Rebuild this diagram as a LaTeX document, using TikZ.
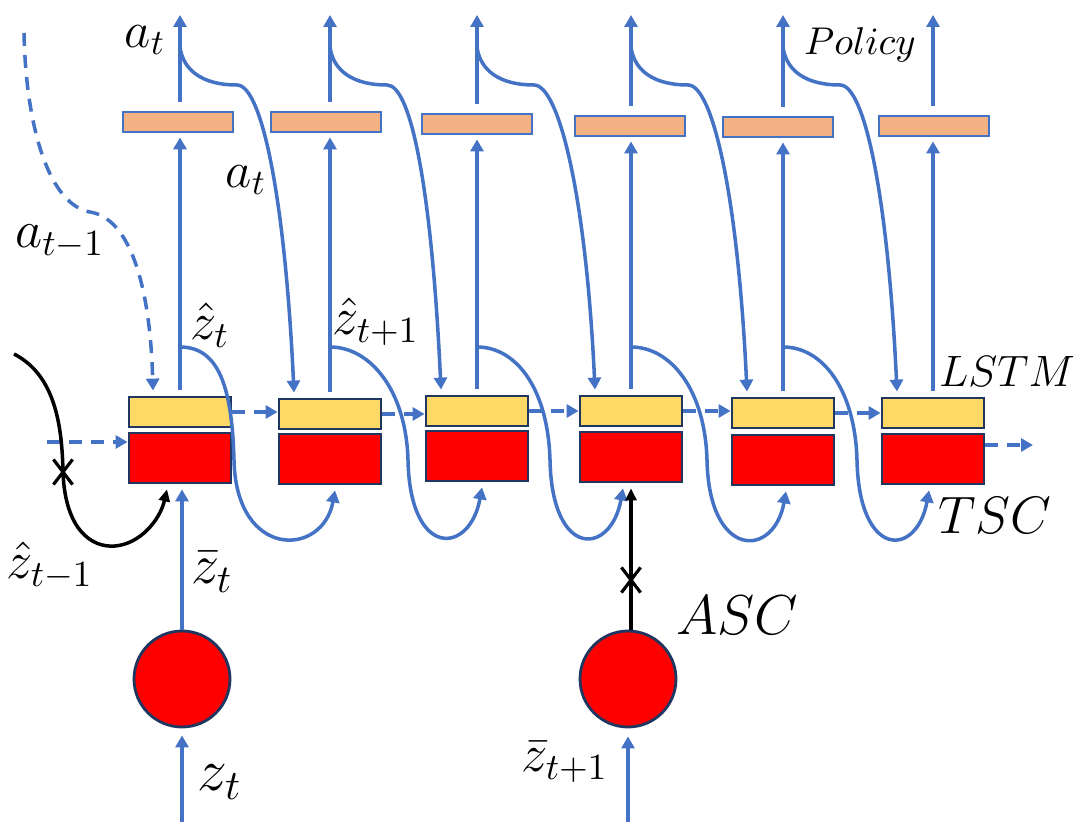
\documentclass[tikz,border=0pt]{standalone}
\usepackage{fix-cm}
\usepackage{amsmath}
\usepackage{xcolor}
\usetikzlibrary{arrows.meta,positioning,calc,shapes.misc}

\definecolor{lineblue}{HTML}{4472C4}
\definecolor{boxnavy}{HTML}{1F3760}
\definecolor{lstmyellow}{HTML}{FFD966}
\definecolor{tscred}{HTML}{FF0000}
\definecolor{polorange}{HTML}{F4B183}

\begin{document}
\begin{tikzpicture}[x=0.1mm, y=0.1mm,
    lstm/.style={draw=boxnavy, line width=0.8pt, fill=lstmyellow, minimum width=10.2mm, minimum height=3mm, inner sep=0pt},
    tsc/.style={draw=boxnavy, line width=0.8pt, fill=tscred, minimum width=10.2mm, minimum height=5mm, inner sep=0pt},
    pol/.style={draw=lineblue, line width=0.8pt, fill=polorange, minimum width=11mm, minimum height=2mm, inner sep=0pt},
    asc/.style={circle, draw=boxnavy, line width=0.8pt, fill=tscred, minimum size=9.6mm, inner sep=0pt},
    flow/.style={lineblue, line width=1pt, -{Triangle[length=1.2mm, width=1.3mm]}},
    state/.style={flow, dash pattern=on 1.3mm off 0.9mm},
    skip/.style={black, line width=1pt, -{Triangle[length=1.2mm, width=1.1mm]}},
    cut/.style={cross out, draw=black, line width=0.9pt, minimum width=1.6mm, minimum height=2.2mm, inner sep=0pt},
    lbl/.style={font=\fontsize{15}{18}\selectfont, inner sep=0pt},
]
    \useasboundingbox (0,0) rectangle (1076,-840);

    % Cells: LSTM on top of TSC, policy head above
    \node[lstm] (l1) at (180,-412) {};
    \node[tsc]  (t1) at (180,-458) {};
    \node[pol]  (p1) at (178,-122) {};

    \node[lstm] (l2) at (330,-414) {};
    \node[tsc]  (t2) at (330,-459) {};
    \node[pol]  (p2) at (326,-122) {};

    \node[lstm] (l3) at (477,-411) {};
    \node[tsc]  (t3) at (477,-456) {};
    \node[pol]  (p3) at (477,-124) {};

    \node[lstm] (l4) at (631,-411) {};
    \node[tsc]  (t4) at (631,-457) {};
    \node[pol]  (p4) at (630,-126) {};

    \node[lstm] (l5) at (783,-413) {};
    \node[tsc]  (t5) at (783,-460) {};
    \node[pol]  (p5) at (778,-127) {};

    \node[lstm] (l6) at (933,-413) {};
    \node[tsc]  (t6) at (933,-459) {};
    \node[pol]  (p6) at (934,-126) {};

    % Encoders
    \node[asc] (c1) at (182,-679) {};
    \node[asc] (c2) at (628,-679) {};

    % LSTM -> policy -> action
    \foreach \i in {1,...,6} {
        \coordinate (top\i) at (l\i.north |- 0,-15);
        \coordinate (br\i) at (l\i.north |- 0,-47);
        \coordinate (zb\i) at (l\i.north |- 0,-347);
        \draw[flow, shorten <=0.6mm, shorten >=0.4mm] (l\i.north) -- (l\i.north |- p\i.south);
        \draw[flow, shorten <=0.9mm] (l\i.north |- p\i.north) -- (top\i);
    }

    % a_t fed to the next LSTM
    \foreach \i [evaluate=\i as \j using int(\i+1)] in {1,...,5}
        \draw[flow] (br\i) .. controls +(3,-23) and +(-35,0) .. ++(57,-38)
            .. controls +(25,0) and +(-9,193) .. ([xshift=-3.6mm,yshift=0.5mm]l\j.north);

    % z hat fed to the next TSC
    \foreach \i/\d/\e [evaluate=\i as \j using int(\i+1)] in {1/54/5,2/78/5,3/73/-8,4/76/3,5/74/-4}
        \draw[flow] (zb\i) .. controls +(40,0) and +(-2,70) .. ++(\d,-113)
            .. controls +(2,-100) and +(-12,-67) .. ($(t\j.south)+(\e,-5)$);

    % hidden state (dashed)
    \foreach \i [evaluate=\i as \j using int(\i+1)] in {1,...,5}
        \draw[state] (l\i.east) -- (l\i.east -| l\j.west);
    \coordinate (hin) at (47,-442);
    \coordinate (hout) at (1033,-445);
    \draw[state] (hin) -- (hin -| t1.west);
    \draw[state] (hout -| t6.east) -- (hout);

    % previous action
    \coordinate (aprev) at (24,-33);
    \draw[state] (aprev) .. controls (26,-130) and (50,-205) .. (90,-212)
        .. controls (128,-218) and (150,-280) .. ([xshift=-2.7mm,yshift=0.5mm]l1.north);

    % previous z hat (cut)
    \coordinate (zprev) at (14,-354);
    \draw[skip] (zprev) .. controls (55,-375) and (62,-425) .. (63,-472)
        .. controls (65,-530) and (92,-548) .. (115,-546)
        .. controls (140,-544) and (160,-520) .. ([xshift=-1.3mm,yshift=-0.5mm]t1.south);
    \node[cut] (x1) at (63,-472) {};

    % encoder inputs
    \coordinate (zin1) at (c1.south |- 0,-822);
    \coordinate (zin2) at (c2.south |- 0,-822);
    \draw[flow, shorten >=0.7mm] (zin1) -- (c1.south);
    \draw[flow, shorten >=0.8mm] (zin2) -- (c2.south);
    \draw[flow, shorten >=0.5mm] (c1.north) -- (c1.north |- t1.south);
    \draw[skip, shorten >=0.5mm] (t4.south |- c2.north) -- (t4.south);
    \node[cut] (x2) at (t4.south |- 0,-580) {};

    % Labels
    \node[lbl, font=\fontsize{14.5}{17}\selectfont] (lat1) at (145,-40) {$a_t$};
    \node[lbl, font=\fontsize{14.5}{17}\selectfont] (lat2) at (246,-180) {$a_t$};
    \node[lbl] (latp) at (60,-242) {$a_{t-1}$};
    \node[lbl] (lzh1) at (210,-325) {$\hat{z}_t$};
    \node[lbl] (lzh2) at (376,-322) {$\hat{z}_{t+1}$};
    \node[lbl] (lzhp) at (50,-566) {$\hat{z}_{t-1}$};
    \node[lbl, font=\fontsize{16}{19}\selectfont] (lzb1) at (212,-572) {$\bar{z}_t$};
    \node[lbl, font=\fontsize{17}{20}\selectfont] (lz1) at (220,-782) {$z_t$};
    \node[lbl] (lzb2) at (565,-762) {$\bar{z}_{t+1}$};
    \node[lbl, font=\fontsize{16}{19}\selectfont] (lasc) at (737,-615) {$ASC$};
    \node[lbl] (ltsc) at (995,-515) {$TSC$};
    \node[lbl, font=\fontsize{12.5}{15}\selectfont] (llstm) at (1007,-371) {$LSTM$};
    \node[lbl, font=\fontsize{11}{13}\selectfont] (lpol) at (860,-45) {$Policy$};
\end{tikzpicture}
\end{document}
